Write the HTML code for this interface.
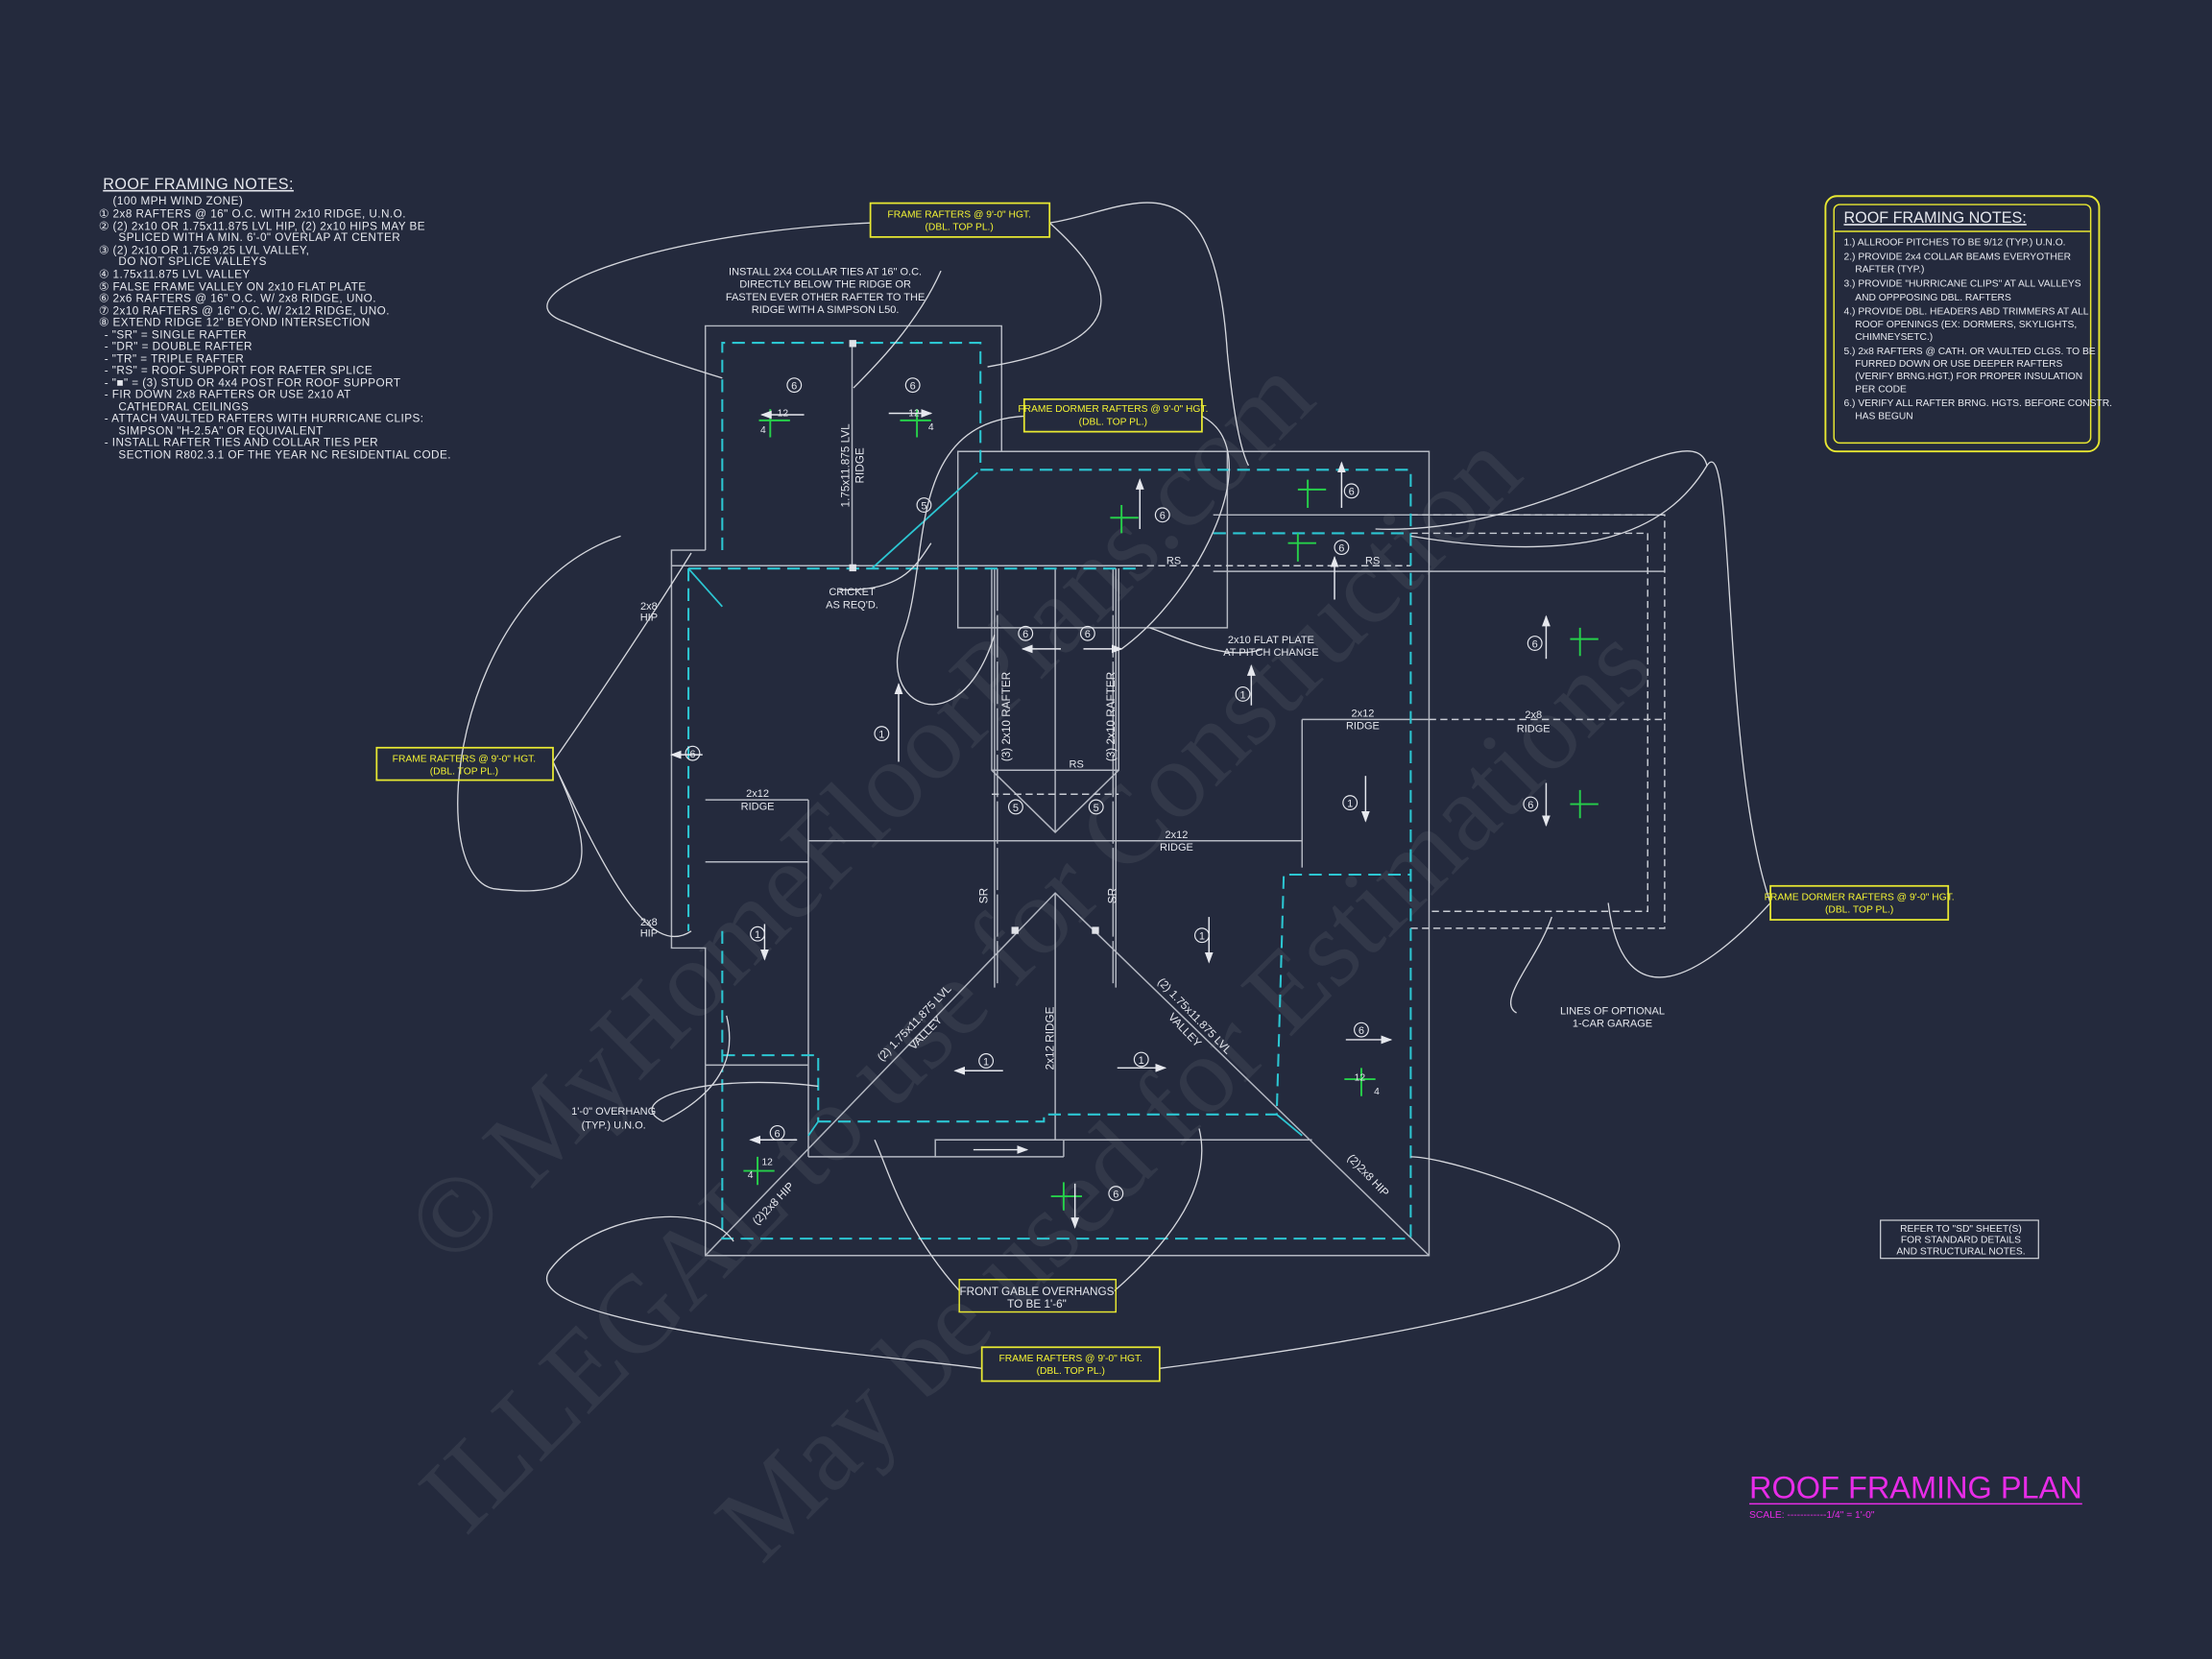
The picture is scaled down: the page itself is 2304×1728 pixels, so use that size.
<!DOCTYPE html>
<html><head><meta charset="utf-8"><style>
html,body{margin:0;padding:0;background:#242a3d;}
svg{display:block}
text{font-family:"Liberation Sans",sans-serif;fill:#e6e8ee}
</style></head><body>
<svg width="2304" height="1728" viewBox="0 0 1568 1176" xmlns="http://www.w3.org/2000/svg">
<defs><marker id="ah" markerWidth="8" markerHeight="6" refX="7" refY="3" orient="auto" markerUnits="userSpaceOnUse"><path d="M0,0 L8,3 L0,6z" fill="#e6e8ee"/></marker></defs>
<rect width="1568" height="1176" fill="#242a3d"/>
<g font-size="78">
<text x="320" y="900" transform="rotate(-45 320 900)" style="fill:#323849;font-family:'Liberation Serif'">© MyHomeFloorPlans.com</text>
<text x="330" y="1090" transform="rotate(-45 330 1090)" style="fill:#323849;font-family:'Liberation Serif'">ILLEGAL to use for Construction</text>
<text x="540" y="1110" transform="rotate(-45 540 1110)" style="fill:#323849;font-family:'Liberation Serif'">May be used for Estimations</text>
</g>

<g font-size="8" style="letter-spacing:0.3px">
<text x="73" y="134" font-size="11" text-decoration="underline">ROOF FRAMING NOTES:</text>
<text x="80" y="145">(100 MPH WIND ZONE)</text>
<text x="70" y="154">①  2x8 RAFTERS @ 16" O.C. WITH 2x10 RIDGE, U.N.O.</text>
<text x="70" y="163">②  (2) 2x10 OR 1.75x11.875 LVL HIP, (2) 2x10 HIPS MAY BE</text>
<text x="84" y="171">SPLICED WITH A MIN. 6'-0" OVERLAP AT CENTER</text>
<text x="70" y="180">③  (2) 2x10 OR 1.75x9.25 LVL VALLEY,</text>
<text x="84" y="188">DO NOT SPLICE VALLEYS</text>
<text x="70" y="197">④  1.75x11.875 LVL VALLEY</text>
<text x="70" y="206">⑤  FALSE FRAME VALLEY ON 2x10 FLAT PLATE</text>
<text x="70" y="214">⑥  2x6 RAFTERS @ 16" O.C. W/ 2x8 RIDGE, UNO.</text>
<text x="70" y="223">⑦  2x10 RAFTERS @ 16" O.C. W/ 2x12 RIDGE, UNO.</text>
<text x="70" y="231">⑧  EXTEND RIDGE 12" BEYOND INTERSECTION</text>
<text x="74" y="240">-  "SR" = SINGLE RAFTER</text>
<text x="74" y="248">-  "DR" = DOUBLE RAFTER</text>
<text x="74" y="257">-  "TR" = TRIPLE RAFTER</text>
<text x="74" y="265">-  "RS" = ROOF SUPPORT FOR RAFTER SPLICE</text>
<text x="74" y="274">-  "■" = (3) STUD OR 4x4 POST FOR ROOF SUPPORT</text>
<text x="74" y="282">-  FIR DOWN 2x8 RAFTERS OR USE 2x10 AT</text>
<text x="84" y="291">CATHEDRAL CEILINGS</text>
<text x="74" y="299">-  ATTACH VAULTED RAFTERS WITH HURRICANE CLIPS:</text>
<text x="84" y="308">SIMPSON "H-2.5A" OR EQUIVALENT</text>
<text x="74" y="316">-  INSTALL RAFTER TIES AND COLLAR TIES PER</text>
<text x="84" y="325">SECTION R802.3.1 OF THE YEAR NC RESIDENTIAL CODE.</text>
</g>

<rect x="1294" y="139" width="194" height="181" rx="8" fill="none" stroke="#e8e832" stroke-width="1.3"/>
<rect x="1300" y="145" width="182" height="169" rx="4" fill="none" stroke="#e8e832" stroke-width="1"/>
<line x1="1300" y1="164" x2="1482" y2="164" stroke="#e8e832"/>
<g font-size="7">
<text x="1307" y="158" font-size="11" text-decoration="underline">ROOF FRAMING NOTES:</text>
<text x="1307" y="174">1.) ALLROOF PITCHES TO BE  9/12 (TYP.) U.N.O.</text>
<text x="1307" y="184">2.) PROVIDE 2x4 COLLAR BEAMS EVERYOTHER</text>
<text x="1315" y="193">RAFTER (TYP.)</text>
<text x="1307" y="203">3.) PROVIDE "HURRICANE CLIPS" AT ALL VALLEYS</text>
<text x="1315" y="213">AND OPPPOSING DBL. RAFTERS</text>
<text x="1307" y="223">4.) PROVIDE DBL. HEADERS ABD TRIMMERS AT ALL</text>
<text x="1315" y="232">ROOF OPENINGS (EX: DORMERS, SKYLIGHTS,</text>
<text x="1315" y="241">CHIMNEYSETC.)</text>
<text x="1307" y="251">5.) 2x8 RAFTERS @ CATH. OR VAULTED CLGS. TO BE</text>
<text x="1315" y="260">FURRED DOWN OR USE DEEPER RAFTERS</text>
<text x="1315" y="269">(VERIFY BRNG.HGT.) FOR PROPER INSULATION</text>
<text x="1315" y="278">PER CODE</text>
<text x="1307" y="288">6.) VERIFY ALL RAFTER BRNG. HGTS. BEFORE CONSTR.</text>
<text x="1315" y="297">HAS BEGUN</text>
</g>

<g fill="none" stroke="#b4b8c2" stroke-width="1">
<polyline points="500,390 500,231 710,231 710,320"/>
<polyline points="679,320 1013,320 1013,890 500,890 500,755"/>
<polyline points="500,390 476,390 476,672 500,672 500,755"/>
<rect x="679" y="320" width="191" height="125"/>
<line x1="476" y1="401" x2="805" y2="401"/>
<line x1="604" y1="243" x2="604" y2="403"/>
<line x1="500" y1="567" x2="573" y2="567"/>
<line x1="573" y1="567" x2="573" y2="820"/>
<line x1="500" y1="611" x2="573" y2="611" />
<line x1="573" y1="596" x2="923" y2="596"/>
<line x1="923" y1="510" x2="1013" y2="510"/>
<line x1="923" y1="510" x2="923" y2="615"/>
<line x1="500" y1="755" x2="573" y2="755"/>
<polyline points="500,890 748,633 1013,890"/>
<line x1="748" y1="633" x2="748" y2="808"/>
<polyline points="573,820 663,820 663,808 930,808"/>
<line x1="663" y1="820" x2="754" y2="820"/>
<line x1="754" y1="808" x2="754" y2="820"/>
<polyline points="703,403 703,546 748,590 793,546 793,403"/>
<line x1="748" y1="403" x2="748" y2="590"/>
<line x1="703" y1="546" x2="793" y2="546"/>
<line x1="705" y1="403" x2="705" y2="700"/><line x1="707" y1="403" x2="707" y2="700" stroke-dasharray="30 3"/>
<line x1="791" y1="403" x2="791" y2="700"/><line x1="789" y1="403" x2="789" y2="700" stroke-dasharray="30 3"/>
<line x1="860" y1="365" x2="1180" y2="365"/>
<line x1="860" y1="405" x2="1180" y2="405"/>
</g>
<g fill="none" stroke="#c8ccd4" stroke-width="1" stroke-dasharray="5 3">
<polyline points="1000,365 1180,365 1180,658 1000,658"/>
<polyline points="1000,378 1168,378 1168,646 1013,646"/>
<line x1="1013" y1="510" x2="1180" y2="510"/>
<line x1="805" y1="401" x2="1000" y2="401"/>
<line x1="703" y1="563" x2="793" y2="563"/>
</g>

<g fill="none" stroke="#2cc6d2" stroke-width="1.4" stroke-dasharray="9 5">
<polyline points="512,390 512,243 695,243 695,333"/>
<polyline points="695,333 1000,333 1000,878 512,878 512,760"/>
<polyline points="488,403 488,660"/>
<line x1="488" y1="403" x2="805" y2="403"/>
<polyline points="512,660 512,760"/>
<polyline points="512,748 580,748 580,795"/>
<polyline points="580,795 740,795 740,790 905,790 910,620 1000,620"/>
<polyline points="860,378 1000,378"/>
</g>
<g fill="none" stroke="#2cc6d2" stroke-width="1.2">
<line x1="618" y1="403" x2="693" y2="335"/>
<line x1="488" y1="403" x2="512" y2="430"/>
<line x1="580" y1="795" x2="573" y2="805"/>
<line x1="905" y1="790" x2="923" y2="805"/>
</g>

<g fill="#e0e2e8">
<rect x="602" y="241" width="5" height="5"/><rect x="602" y="400" width="5" height="5"/>
<rect x="717" y="657" width="5" height="5"/><rect x="774" y="657" width="5" height="5"/>
</g>

<g stroke="#26d04a" stroke-width="1.3" fill="none">
<path d="M538,298h22M546,290v20"/><path d="M638,298h22M650,290v20"/>
<path d="M787,367h20M795,358v20"/><path d="M920,347h20M927,340v20"/>
<path d="M913,385h20M920,378v20"/><path d="M1113,453h20M1120,445v20"/>
<path d="M1113,570h20M1120,560v20"/><path d="M527,830h22M537,820v20"/>
<path d="M953,765h22M965,757v20"/><path d="M745,848h22M754,838v20"/>
</g>

<g stroke="#e6e8ee" stroke-width="1" fill="none" marker-end="url(#ah)">
<line x1="570" y1="294" x2="540" y2="294"/><line x1="630" y1="293" x2="660" y2="293"/>
<line x1="951" y1="360" x2="951" y2="328"/><line x1="808" y1="375" x2="808" y2="340"/>
<line x1="946" y1="425" x2="946" y2="395"/><line x1="637" y1="540" x2="637" y2="485"/>
<line x1="887" y1="500" x2="887" y2="472"/><line x1="1096" y1="467" x2="1096" y2="437"/>
<line x1="1096" y1="555" x2="1096" y2="585"/><line x1="968" y1="550" x2="968" y2="582"/>
<line x1="542" y1="655" x2="542" y2="680"/><line x1="857" y1="650" x2="857" y2="682"/>
<line x1="711" y1="759" x2="677" y2="759"/><line x1="792" y1="757" x2="826" y2="757"/>
<line x1="954" y1="737" x2="986" y2="737"/><line x1="565" y1="808" x2="532" y2="808"/>
<line x1="762" y1="839" x2="762" y2="870"/><line x1="690" y1="815" x2="728" y2="815"/>
<line x1="752" y1="460" x2="725" y2="460"/><line x1="768" y1="460" x2="795" y2="460"/>
<line x1="498" y1="535" x2="476" y2="535"/>
</g>

<g font-size="7.5" text-anchor="middle">
<g fill="none" stroke="#e6e8ee" stroke-width="0.8">
<circle cx="563" cy="273" r="5"/><circle cx="647" cy="273" r="5"/><circle cx="655" cy="358" r="5"/>
<circle cx="824" cy="365" r="5"/><circle cx="958" cy="348" r="5"/><circle cx="951" cy="388" r="5"/>
<circle cx="727" cy="449" r="5"/><circle cx="771" cy="449" r="5"/><circle cx="720" cy="572" r="5"/>
<circle cx="777" cy="572" r="5"/><circle cx="625" cy="520" r="5"/><circle cx="881" cy="492" r="5"/>
<circle cx="1088" cy="456" r="5"/><circle cx="1085" cy="570" r="5"/><circle cx="957" cy="569" r="5"/>
<circle cx="491" cy="534" r="5"/><circle cx="537" cy="662" r="5"/><circle cx="852" cy="663" r="5"/>
<circle cx="699" cy="752" r="5"/><circle cx="809" cy="751" r="5"/><circle cx="965" cy="730" r="5"/>
<circle cx="551" cy="803" r="5"/><circle cx="791" cy="846" r="5"/>
</g>
<text x="563" y="276">6</text><text x="647" y="276">6</text><text x="655" y="361">5</text>
<text x="824" y="368">6</text><text x="958" y="351">6</text><text x="951" y="391">6</text>
<text x="727" y="452">6</text><text x="771" y="452">6</text><text x="720" y="575">5</text>
<text x="777" y="575">5</text><text x="625" y="523">1</text><text x="881" y="495">1</text>
<text x="1088" y="459">6</text><text x="1085" y="573">6</text><text x="957" y="572">1</text>
<text x="491" y="537">6</text><text x="537" y="665">1</text><text x="852" y="666">1</text>
<text x="699" y="755">1</text><text x="809" y="754">1</text><text x="965" y="733">6</text>
<text x="551" y="806">6</text><text x="791" y="849">6</text>
</g>

<g fill="none" stroke="#d6d8de" stroke-width="0.9">
<path d="M617,158 C460,165 350,210 400,228 C440,245 470,255 512,268"/>
<path d="M744,158 C780,190 820,240 700,260"/>
<path d="M744,158 C800,150 860,100 870,250 C875,300 880,320 885,330"/>
<path d="M392,540 C420,500 460,440 490,392"/>
<path d="M392,540 C430,620 460,680 490,660"/>
<path d="M392,540 C420,600 430,640 350,630 C300,620 320,420 440,380"/>
<path d="M726,295 C640,300 660,400 640,450 C620,500 680,530 705,450"/>
<path d="M852,295 C900,320 850,420 795,460"/>
<path d="M696,970 C620,960 360,940 390,900 C420,860 500,850 520,880"/>
<path d="M822,970 C900,960 1200,920 1140,870 C1090,840 1020,820 1000,820"/>
<path d="M680,915 C640,870 630,830 620,808"/>
<path d="M790,915 C830,880 860,840 850,800"/>
<path d="M1255,640 C1220,540 1230,300 1210,330 C1180,380 1120,400 1000,380"/>
<path d="M1255,640 C1200,700 1150,720 1140,640"/>
<path d="M1075,718 C1060,710 1090,680 1100,650"/>
<path d="M470,795 C520,770 520,740 515,720"/>
<path d="M470,795 C440,780 500,760 580,770"/>
<path d="M895,460 C870,470 830,450 815,445"/>
<path d="M975,375 C1100,380 1200,290 1210,330"/>
<path d="M667,192 C650,230 620,260 605,275"/>
<path d="M595,418 C640,420 650,400 660,385"/>
</g>

<g font-size="7.5" text-anchor="middle">
<text x="585" y="195">INSTALL 2X4 COLLAR TIES AT 16" O.C.</text>
<text x="585" y="204">DIRECTLY BELOW THE RIDGE OR</text>
<text x="585" y="213">FASTEN EVER OTHER RAFTER TO THE</text>
<text x="585" y="222">RIDGE WITH A SIMPSON L50.</text>
<text x="604" y="422">CRICKET</text><text x="604" y="431">AS REQ'D.</text>
<text x="460" y="432">2x8</text><text x="460" y="440">HIP</text>
<text x="460" y="656">2x8</text><text x="460" y="664">HIP</text>
<text x="537" y="565">2x12</text><text x="537" y="574">RIDGE</text>
<text x="966" y="508">2x12</text><text x="966" y="517">RIDGE</text>
<text x="1087" y="509">2x8</text><text x="1087" y="519">RIDGE</text>
<text x="834" y="594">2x12</text><text x="834" y="603">RIDGE</text>
<text x="832" y="400">RS</text><text x="973" y="400">RS</text><text x="763" y="544">RS</text>
<text x="901" y="456">2x10 FLAT PLATE</text><text x="901" y="465">AT PITCH CHANGE</text>
<text x="1143" y="719">LINES OF OPTIONAL</text><text x="1143" y="728">1-CAR GARAGE</text>
<text x="435" y="790">1'-0" OVERHANG</text><text x="435" y="800">(TYP.) U.N.O.</text>
<text x="1390" y="873" font-size="7">REFER TO "SD" SHEET(S)</text>
<text x="1390" y="881" font-size="7">FOR STANDARD DETAILS</text>
<text x="1390" y="889" font-size="7">AND STRUCTURAL NOTES.</text>
</g>
<rect x="1333" y="865" width="112" height="27" fill="none" stroke="#d6d8de" stroke-width="0.8"/>
<g font-size="8">
<text x="602" y="330" transform="rotate(-90 602 330)" text-anchor="middle">1.75x11.875 LVL</text>
<text x="612" y="330" transform="rotate(-90 612 330)" text-anchor="middle">RIDGE</text>
<text x="716" y="508" transform="rotate(-90 716 508)" text-anchor="middle">(3) 2x10 RAFTER</text>
<text x="790" y="508" transform="rotate(-90 790 508)" text-anchor="middle">(3) 2x10 RAFTER</text>
<text x="747" y="736" transform="rotate(-90 747 736)" text-anchor="middle">2x12 RIDGE</text>
<text x="650" y="727" transform="rotate(-46 650 727)" text-anchor="middle">(2) 1.75x11.875 LVL</text>
<text x="658" y="734" transform="rotate(-46 658 734)" text-anchor="middle">VALLEY</text>
<text x="845" y="722" transform="rotate(46 845 722)" text-anchor="middle">(2) 1.75x11.875 LVL</text>
<text x="838" y="732" transform="rotate(46 838 732)" text-anchor="middle">VALLEY</text>
<text x="550" y="855" transform="rotate(-46 550 855)" text-anchor="middle">(2)2x8 HIP</text>
<text x="968" y="835" transform="rotate(46 968 835)" text-anchor="middle">(2)2x8 HIP</text>
<text x="700" y="635" transform="rotate(-90 700 635)" text-anchor="middle">SR</text>
<text x="791" y="635" transform="rotate(-90 791 635)" text-anchor="middle">SR</text>
</g>
<g font-size="7">
<text x="551" y="295">12</text><text x="539" y="307">4</text><text x="644" y="295">12</text><text x="658" y="305">4</text>
<text x="530" y="835">4</text><text x="540" y="826">12</text><text x="960" y="766">12</text><text x="974" y="776">4</text>
</g>

<g fill="none" stroke="#e8e832" stroke-width="1.2">
<rect x="617" y="144" width="127" height="24"/>
<rect x="726" y="283" width="126" height="23"/>
<rect x="267" y="530" width="125" height="23"/>
<rect x="1255" y="628" width="126" height="24"/>
<rect x="696" y="955" width="126" height="24"/>
<rect x="680" y="907" width="111" height="23" stroke-width="1"/>
</g>
<g font-size="7" text-anchor="middle">
<text x="680" y="154" style="fill:#f2f234">FRAME RAFTERS @ 9'-0" HGT.</text><text x="680" y="163" style="fill:#f2f234">(DBL. TOP PL.)</text>
<text x="789" y="292" style="fill:#f2f234">FRAME DORMER RAFTERS @ 9'-0" HGT.</text><text x="789" y="301" style="fill:#f2f234">(DBL. TOP PL.)</text>
<text x="329" y="540" style="fill:#f2f234">FRAME RAFTERS @ 9'-0" HGT.</text><text x="329" y="549" style="fill:#f2f234">(DBL. TOP PL.)</text>
<text x="1318" y="638" style="fill:#f2f234">FRAME DORMER RAFTERS @ 9'-0" HGT.</text><text x="1318" y="647" style="fill:#f2f234">(DBL. TOP PL.)</text>
<text x="759" y="965" style="fill:#f2f234">FRAME RAFTERS @ 9'-0" HGT.</text><text x="759" y="974" style="fill:#f2f234">(DBL. TOP PL.)</text>
</g>
<text x="735" y="918" font-size="8" text-anchor="middle">FRONT GABLE OVERHANGS</text>
<text x="735" y="927" font-size="8" text-anchor="middle">TO BE 1'-6"</text>

<text x="1240" y="1062" font-size="22" style="fill:#e82ce8" textLength="236" lengthAdjust="spacingAndGlyphs">ROOF FRAMING PLAN</text>
<line x1="1240" y1="1066" x2="1476" y2="1066" stroke="#e82ce8" stroke-width="1"/>
<text x="1240" y="1076" font-size="7" style="fill:#e82ce8">SCALE: ------------1/4" = 1'-0"</text>
</svg>
</body></html>
